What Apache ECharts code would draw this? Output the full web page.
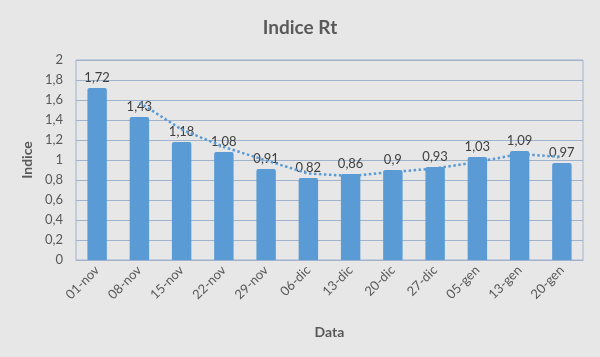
<!DOCTYPE html>
<html>
<head>
<meta charset="utf-8">
<script src="https://cdn.jsdelivr.net/npm/echarts@6/dist/echarts.min.js"></script>
<style>
html,body{margin:0;padding:0;background:#e7e7e7;}
#c{width:600px;height:357px;}
</style>
</head>
<body>
<div id="c"></div>
<script>
const categories = ['01-nov','08-nov','15-nov','22-nov','29-nov','06-dic','13-dic','20-dic','27-dic','05-gen','13-gen','20-gen'];
const rtValues = [1.72,1.43,1.18,1.08,0.91,0.82,0.86,0.9,0.93,1.03,1.09,0.97];
const trendValues = [null,1.575,1.305,1.13,0.995,0.865,0.84,0.88,0.915,0.98,1.06,1.03];
const yTicks = [0,0.2,0.4,0.6,0.8,1,1.2,1.4,1.6,1.8,2];

const fmt = v => String(v).replace('.', ',');
const FONT = 'Lato';
const chart = echarts.init(document.getElementById('c'));
chart.setOption({
  backgroundColor: '#e7e7e7',
  animation: false,
  textStyle: {fontFamily: FONT},
  title: {
    text: 'Indice Rt', left: 'center', top: 13,
    textStyle: {fontFamily: FONT, fontSize: 19, fontWeight: 'bold', color: '#595959'}
  },
  grid: {left: 76, right: 17, top: 60, bottom: 97, show: true, borderColor: '#9fb3cf', borderWidth: 1, backgroundColor: 'transparent'},
  xAxis: {
    type: 'category', data: categories,
    name: 'Data', nameLocation: 'middle', nameGap: 65,
    nameTextStyle: {fontFamily: FONT, fontSize: 14, fontWeight: 'bold', color: '#595959'},
    axisLine: {lineStyle: {color: '#9fb3cf'}},
    axisTick: {show: false},
    axisLabel: {rotate: 45, fontSize: 13, color: '#595959', margin: 8, interval: 0}
  },
  yAxis: {
    type: 'value', min: yTicks[0], max: yTicks[yTicks.length-1], interval: 0.2,
    name: 'Indice', nameLocation: 'middle', nameGap: 40, nameRotate: 90,
    nameTextStyle: {fontFamily: FONT, fontSize: 14, fontWeight: 'bold', color: '#595959'},
    axisLine: {show: false}, axisTick: {show: false},
    axisLabel: {fontSize: 13, color: '#595959', margin: 13, formatter: v => fmt(Math.round(v*10)/10)},
    splitLine: {lineStyle: {color: '#9fb3cf', width: 1}}
  },
  series: [
    {
      type: 'bar', data: rtValues, barWidth: '46%',
      itemStyle: {color: '#5b9bd5', borderRadius: [2,2,0,0]},
      label: {show: true, position: 'top', distance: 4, fontSize: 13, color: '#404040', formatter: p => fmt(p.value)}
    },
    {
      type: 'line', data: trendValues, symbol: 'none', z: 5,
      lineStyle: {type: 'dotted', color: '#5b9bd5', width: 2.5}
    }
  ]
});
</script>
</body>
</html>
